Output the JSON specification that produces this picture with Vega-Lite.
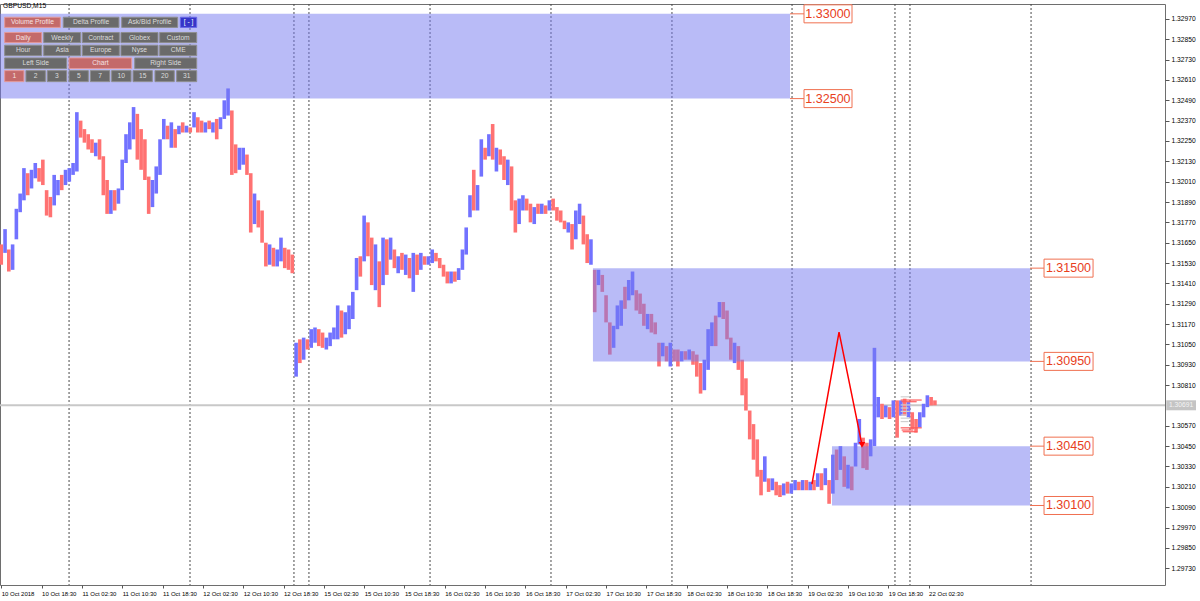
{
"$schema":"https://vega.github.io/schema/vega-lite/v6.json",
"width":1165,"height":581,
"autosize":{"type":"none"},
"padding":{"left":0,"top":4,"right":35,"bottom":16},
"background":"#ffffff",
"config":{"view":{"stroke":"#6e6e6e","strokeWidth":1},"font":"Liberation Sans"},
"resolve":{"axis":{"x":"independent","y":"independent"}},
"datasets":{
"candles":[
{"i":1,"o":1.3164,"c":1.3152},{"i":4,"o":1.3159,"c":1.3173},{"i":7,"o":1.3161,"c":1.3148},{"i":10,"o":1.3149,"c":1.3164},{"i":13,"o":1.3167,"c":1.3185},{"i":16,"o":1.3183,"c":1.3194},{"i":19,"o":1.3190,"c":1.3209},{"i":22,"o":1.3206,"c":1.3193},{"i":25,"o":1.3197,"c":1.3208},{"i":28,"o":1.3203,"c":1.3212},{"i":31,"o":1.3209,"c":1.3201},{"i":34,"o":1.3214,"c":1.3199},{"i":37,"o":1.3196,"c":1.3181},{"i":40,"o":1.3192,"c":1.3180},{"i":43,"o":1.3187,"c":1.3205},{"i":46,"o":1.3193,"c":1.3202},{"i":49,"o":1.3205,"c":1.3196},{"i":52,"o":1.3199,"c":1.3208},{"i":55,"o":1.3201,"c":1.3209},{"i":58,"o":1.3205,"c":1.3212},{"i":61,"o":1.3207,"c":1.3242},{"i":64,"o":1.3237,"c":1.3227},{"i":67,"o":1.3232,"c":1.3224},{"i":70,"o":1.3229,"c":1.3220},{"i":73,"o":1.3226,"c":1.3218},{"i":76,"o":1.3216,"c":1.3224},{"i":79,"o":1.3226,"c":1.3214},{"i":82,"o":1.3216,"c":1.3193},{"i":85,"o":1.3202,"c":1.3182},{"i":88,"o":1.3182,"c":1.3196},{"i":91,"o":1.3196,"c":1.3184},{"i":94,"o":1.3188,"c":1.3197},{"i":97,"o":1.3196,"c":1.3214},{"i":100,"o":1.3212,"c":1.3229},{"i":103,"o":1.3220,"c":1.3236},{"i":106,"o":1.3226,"c":1.3245},{"i":109,"o":1.3241,"c":1.3214},{"i":112,"o":1.3232,"c":1.3208},{"i":115,"o":1.3226,"c":1.3202},{"i":118,"o":1.3204,"c":1.3182},{"i":121,"o":1.3186,"c":1.3202},{"i":124,"o":1.3194,"c":1.3210},{"i":127,"o":1.3205,"c":1.3226},{"i":130,"o":1.3226,"c":1.3238},{"i":133,"o":1.3234,"c":1.3226},{"i":136,"o":1.3221,"c":1.3236},{"i":139,"o":1.3232,"c":1.3221},{"i":142,"o":1.3229,"c":1.3234},{"i":145,"o":1.3236,"c":1.3230},{"i":148,"o":1.3230,"c":1.3234},{"i":151,"o":1.3233,"c":1.3230},{"i":154,"o":1.3233,"c":1.3242},{"i":157,"o":1.3239,"c":1.3230},{"i":160,"o":1.3237,"c":1.3230},{"i":163,"o":1.3230,"c":1.3236},{"i":166,"o":1.3237,"c":1.3232},{"i":169,"o":1.3230,"c":1.3236},{"i":172,"o":1.3238,"c":1.3226},{"i":175,"o":1.3232,"c":1.3239},{"i":178,"o":1.3238,"c":1.3249},{"i":181,"o":1.3240,"c":1.3256},{"i":184,"o":1.3243,"c":1.3205},{"i":187,"o":1.3223,"c":1.3206},{"i":190,"o":1.3208,"c":1.3221},{"i":193,"o":1.3211,"c":1.3221},{"i":196,"o":1.3217,"c":1.3205},{"i":199,"o":1.3206,"c":1.3171},{"i":202,"o":1.3176,"c":1.3194},{"i":205,"o":1.3190,"c":1.3174},{"i":208,"o":1.3184,"c":1.3165},{"i":211,"o":1.3165,"c":1.3151},{"i":214,"o":1.3152,"c":1.3164},{"i":217,"o":1.3162,"c":1.3151},{"i":220,"o":1.3151,"c":1.3161},{"i":223,"o":1.3154,"c":1.3168},{"i":226,"o":1.3162,"c":1.3150},{"i":229,"o":1.3161,"c":1.3149},{"i":232,"o":1.3158,"c":1.3147},
{"i":235,"o":1.3086,"c":1.3106},{"i":238,"o":1.3108,"c":1.3094},{"i":241,"o":1.3096,"c":1.3109},{"i":244,"o":1.3108,"c":1.3102},{"i":247,"o":1.3103,"c":1.3114},{"i":250,"o":1.3106,"c":1.3115},{"i":253,"o":1.3114,"c":1.3104},{"i":256,"o":1.3112,"c":1.3103},{"i":259,"o":1.3102,"c":1.3109},{"i":262,"o":1.3104,"c":1.3112},{"i":265,"o":1.3108,"c":1.3115},{"i":268,"o":1.3108,"c":1.3128},{"i":271,"o":1.3125,"c":1.3109},{"i":274,"o":1.3111,"c":1.3124},{"i":277,"o":1.3114,"c":1.3128},{"i":280,"o":1.3120,"c":1.3136},{"i":283,"o":1.3137,"c":1.3156},{"i":286,"o":1.3157,"c":1.3145},{"i":289,"o":1.3154,"c":1.3181},{"i":292,"o":1.3177,"c":1.3157},{"i":295,"o":1.3168,"c":1.3140},{"i":298,"o":1.3137,"c":1.3164},{"i":301,"o":1.3154,"c":1.3127},{"i":304,"o":1.3140,"c":1.3168},{"i":307,"o":1.3167,"c":1.3146},{"i":310,"o":1.3155,"c":1.3168},{"i":313,"o":1.3161,"c":1.3150},{"i":316,"o":1.3147,"c":1.3157},{"i":319,"o":1.3159,"c":1.3149},{"i":322,"o":1.3146,"c":1.3158},{"i":325,"o":1.3156,"c":1.3144},{"i":328,"o":1.3136,"c":1.3159},{"i":331,"o":1.3158,"c":1.3146},{"i":334,"o":1.3149,"c":1.3159},{"i":337,"o":1.3157,"c":1.3152},{"i":340,"o":1.3152,"c":1.3157},{"i":343,"o":1.3153,"c":1.3161},{"i":346,"o":1.3159,"c":1.3154},{"i":349,"o":1.3156,"c":1.3150},{"i":352,"o":1.3152,"c":1.3145},{"i":355,"o":1.3148,"c":1.3141},{"i":358,"o":1.3141,"c":1.3148},{"i":361,"o":1.3148,"c":1.3142},{"i":364,"o":1.3143,"c":1.3150},{"i":367,"o":1.3149,"c":1.3161},{"i":370,"o":1.3158,"c":1.3174},{"i":373,"o":1.3180,"c":1.3193},{"i":376,"o":1.3208,"c":1.3184},{"i":379,"o":1.3184,"c":1.3199},{"i":382,"o":1.3204,"c":1.3226},{"i":385,"o":1.3221,"c":1.3214},{"i":388,"o":1.3216,"c":1.3229},{"i":391,"o":1.3235,"c":1.3214},{"i":394,"o":1.3207,"c":1.3221},{"i":397,"o":1.3220,"c":1.3211},{"i":400,"o":1.3216,"c":1.3202},{"i":403,"o":1.3199,"c":1.3214},{"i":406,"o":1.3210,"c":1.3184},{"i":409,"o":1.3190,"c":1.3171},{"i":412,"o":1.3176,"c":1.3191},{"i":415,"o":1.3184,"c":1.3193},{"i":418,"o":1.3191,"c":1.3184},{"i":421,"o":1.3188,"c":1.3177},{"i":424,"o":1.3176,"c":1.3186},{"i":427,"o":1.3188,"c":1.3182},{"i":430,"o":1.3182,"c":1.3188},{"i":433,"o":1.3187,"c":1.3182},{"i":436,"o":1.3184,"c":1.3190},{"i":439,"o":1.3191,"c":1.3184},{"i":442,"o":1.3186,"c":1.3178},{"i":445,"o":1.3184,"c":1.3177},{"i":448,"o":1.3178,"c":1.3173},{"i":451,"o":1.3171,"c":1.3177},{"i":454,"o":1.3176,"c":1.3161},{"i":457,"o":1.3167,"c":1.3184},{"i":460,"o":1.3176,"c":1.3188},{"i":463,"o":1.3181,"c":1.3164},{"i":466,"o":1.3170,"c":1.3153},{"i":469,"o":1.3152,"c":1.3167},{"i":472,"o":1.3149,"c":1.3124},{"i":475,"o":1.3140,"c":1.3149},{"i":478,"o":1.3146,"c":1.3136},{"i":481,"o":1.3134,"c":1.3118},{"i":484,"o":1.3118,"c":1.3099},{"i":487,"o":1.3103,"c":1.3116},{"i":490,"o":1.3114,"c":1.3128},{"i":493,"o":1.3116,"c":1.3131},{"i":496,"o":1.3139,"c":1.3126},{"i":499,"o":1.3131,"c":1.3143},{"i":502,"o":1.3134,"c":1.3148},{"i":505,"o":1.3137,"c":1.3125},{"i":508,"o":1.3135,"c":1.3123},{"i":511,"o":1.3129,"c":1.3116},{"i":514,"o":1.3114,"c":1.3123},{"i":517,"o":1.3123,"c":1.3112},{"i":520,"o":1.3118,"c":1.3111},{"i":523,"o":1.3106,"c":1.3092},{"i":526,"o":1.3098,"c":1.3106},{"i":529,"o":1.3104,"c":1.3095},{"i":532,"o":1.3092,"c":1.3106},{"i":535,"o":1.3102,"c":1.3095},{"i":538,"o":1.3102,"c":1.3092},{"i":541,"o":1.3095,"c":1.3101},{"i":544,"o":1.3101,"c":1.3096},{"i":547,"o":1.3096,"c":1.3102},{"i":550,"o":1.3101,"c":1.3093},{"i":553,"o":1.3099,"c":1.3086},{"i":556,"o":1.3094,"c":1.3076},{"i":559,"o":1.3078,"c":1.3096},{"i":562,"o":1.3090,"c":1.3114},{"i":565,"o":1.3104,"c":1.3118},{"i":568,"o":1.3122,"c":1.3104},{"i":571,"o":1.3121,"c":1.3130},{"i":574,"o":1.3130,"c":1.3120},{"i":577,"o":1.3125,"c":1.3108},{"i":580,"o":1.3109,"c":1.3096},{"i":583,"o":1.3094,"c":1.3106},{"i":586,"o":1.3104,"c":1.3090},{"i":589,"o":1.3096,"c":1.3075},{"i":592,"o":1.3085,"c":1.3066},{"i":595,"o":1.3066,"c":1.3049},{"i":598,"o":1.3058,"c":1.3037},{"i":601,"o":1.3049,"c":1.3027},{"i":604,"o":1.3031,"c":1.3016},{"i":607,"o":1.3024,"c":1.3039},{"i":610,"o":1.3026,"c":1.3018},{"i":613,"o":1.3019,"c":1.3026},{"i":616,"o":1.3024,"c":1.3016},{"i":619,"o":1.3022,"c":1.3015},{"i":622,"o":1.3016,"c":1.3023},{"i":625,"o":1.3024,"c":1.3017},{"i":628,"o":1.3017,"c":1.3023},{"i":631,"o":1.3019,"c":1.3025},{"i":634,"o":1.3024,"c":1.3019},{"i":637,"o":1.3019,"c":1.3025},{"i":640,"o":1.3025,"c":1.3019},{"i":643,"o":1.3019,"c":1.3024},{"i":646,"o":1.3025,"c":1.3019},{"i":649,"o":1.3021,"c":1.3029},{"i":652,"o":1.3029,"c":1.3019},{"i":655,"o":1.3022,"c":1.3032},{"i":658,"o":1.3025,"c":1.3011},{"i":661,"o":1.3017,"c":1.3040},{"i":664,"o":1.3043,"c":1.3025},{"i":667,"o":1.3031,"c":1.3045},{"i":670,"o":1.3039,"c":1.3021},{"i":673,"o":1.3020,"c":1.3034},{"i":676,"o":1.3033,"c":1.3019},{"i":679,"o":1.3033,"c":1.3047},{"i":682,"o":1.3046,"c":1.3061},{"i":685,"o":1.3050,"c":1.3032},{"i":688,"o":1.3047,"c":1.3031},{"i":691,"o":1.3039,"c":1.3049},{"i":694,"o":1.3045,"c":1.3103},{"i":697,"o":1.3062,"c":1.3074},{"i":700,"o":1.3070,"c":1.3061},{"i":703,"o":1.3062,"c":1.3069},{"i":706,"o":1.3068,"c":1.3061},{"i":709,"o":1.3062,"c":1.3072},{"i":712,"o":1.3072,"c":1.3050},{"i":715,"o":1.3063,"c":1.3072},{"i":718,"o":1.3073,"c":1.3063},{"i":721,"o":1.3062,"c":1.3071},{"i":724,"o":1.3065,"c":1.3055},{"i":727,"o":1.3061,"c":1.3053},{"i":730,"o":1.3056,"c":1.3065},{"i":733,"o":1.3062,"c":1.3070},{"i":736,"o":1.3068,"c":1.3075},{"i":739,"o":1.3074,"c":1.3069},{"i":742,"o":1.3072,"c":1.30691}
],
"seps":[{"i":54.8},{"i":150.8},{"i":233.3},{"i":245.2},{"i":341.3},{"i":437.3},{"i":533.3},{"i":628.6},{"i":710.3},{"i":722.2},{"i":818.3}],
"price":[{"p":1.30691,"a":925.6,"b":949.2,"m":937.4,"t":"1.30691"}],
"zones":[{"a":0,"b":627,"lo":1.325,"hi":1.33},{"a":470.6,"b":817.5,"lo":1.3095,"hi":1.315},{"a":660.3,"b":817.5,"lo":1.301,"hi":1.3045}],
"zlabels":[
{"p":1.33,"z":627,"a":638.1,"b":676.2,"m":657.1,"t":"1.33000"},
{"p":1.325,"z":627,"a":638.1,"b":676.2,"m":657.1,"t":"1.32500"},
{"p":1.315,"z":817.5,"a":828.6,"b":867.5,"m":848,"t":"1.31500"},
{"p":1.3095,"z":817.5,"a":828.6,"b":867.5,"m":848,"t":"1.30950"},
{"p":1.3045,"z":817.5,"a":828.6,"b":867.5,"m":848,"t":"1.30450"},
{"p":1.301,"z":817.5,"a":828.6,"b":867.5,"m":848,"t":"1.30100"}
],
"zigzag":[{"i":644.4,"p":1.30226,"k":0},{"i":665.9,"p":1.31123,"k":1},{"i":684.1,"p":1.30457,"k":2}],
"vp":[
{"p":1.30741,"a":714.8,"b":722.2,"k":"g"},{"p":1.30722,"a":714.8,"b":731.5,"k":"r"},{"p":1.30712,"a":715.6,"b":727.5,"k":"r"},
{"p":1.30693,"a":714.8,"b":723.6,"k":"g"},{"p":1.30675,"a":714.8,"b":721,"k":"g"},{"p":1.30655,"a":714.8,"b":722,"k":"g"},
{"p":1.30634,"a":714.8,"b":720,"k":"g"},{"p":1.30615,"a":714.8,"b":723,"k":"g"},{"p":1.30595,"a":714.8,"b":721,"k":"g"},
{"p":1.30558,"a":714.8,"b":731.5,"k":"r"},{"p":1.30545,"a":715.6,"b":724.9,"k":"r"},{"p":1.30535,"a":716.4,"b":728,"k":"r"}
],
"buttons":[
{"t":"Volume Profile","a":3.7,"b":47.9,"m":25.8,"lo":1.3292,"hi":1.3298,"ym":1.3295,"s":"on"},
{"t":"Delta Profile","a":50.2,"b":94.4,"m":72.3,"lo":1.3292,"hi":1.3298,"ym":1.3295,"s":"off"},
{"t":"Ask/Bid Profile","a":96.6,"b":141.0,"m":118.8,"lo":1.3292,"hi":1.3298,"ym":1.3295,"s":"off"},
{"t":"[ - ]","a":143.1,"b":156.1,"m":149.6,"lo":1.3292,"hi":1.3298,"ym":1.3295,"s":"blue"},
{"t":"Daily","a":3.7,"b":33.1,"m":18.4,"lo":1.3283,"hi":1.3289,"ym":1.3286,"s":"on"},
{"t":"Weekly","a":34.7,"b":64.0,"m":49.4,"lo":1.3283,"hi":1.3289,"ym":1.3286,"s":"off"},
{"t":"Contract","a":65.3,"b":94.7,"m":80.0,"lo":1.3283,"hi":1.3289,"ym":1.3286,"s":"off"},
{"t":"Globex","a":96.0,"b":125.4,"m":110.7,"lo":1.3283,"hi":1.3289,"ym":1.3286,"s":"off"},
{"t":"Custom","a":126.7,"b":156.1,"m":141.4,"lo":1.3283,"hi":1.3289,"ym":1.3286,"s":"off"},
{"t":"Hour","a":3.7,"b":33.1,"m":18.4,"lo":1.32753,"hi":1.32815,"ym":1.32784,"s":"off"},
{"t":"Asia","a":34.7,"b":64.0,"m":49.4,"lo":1.32753,"hi":1.32815,"ym":1.32784,"s":"off"},
{"t":"Europe","a":65.3,"b":94.7,"m":80.0,"lo":1.32753,"hi":1.32815,"ym":1.32784,"s":"off"},
{"t":"Nyse","a":96.0,"b":125.4,"m":110.7,"lo":1.32753,"hi":1.32815,"ym":1.32784,"s":"off"},
{"t":"CME","a":126.7,"b":156.1,"m":141.4,"lo":1.32753,"hi":1.32815,"ym":1.32784,"s":"off"},
{"t":"Left Side","a":3.7,"b":52.9,"m":28.3,"lo":1.32677,"hi":1.3274,"ym":1.32708,"s":"off"},
{"t":"Chart","a":54.8,"b":104.5,"m":79.7,"lo":1.32677,"hi":1.3274,"ym":1.32708,"s":"on"},
{"t":"Right Side","a":106.9,"b":156.1,"m":131.5,"lo":1.32677,"hi":1.3274,"ym":1.32708,"s":"off"},
{"t":"1","a":3.7,"b":19.0,"m":11.4,"lo":1.326,"hi":1.32665,"ym":1.32632,"s":"on"},
{"t":"2","a":20.6,"b":36.0,"m":28.3,"lo":1.326,"hi":1.32665,"ym":1.32632,"s":"off"},
{"t":"3","a":37.5,"b":52.9,"m":45.2,"lo":1.326,"hi":1.32665,"ym":1.32632,"s":"off"},
{"t":"5","a":54.8,"b":70.1,"m":62.5,"lo":1.326,"hi":1.32665,"ym":1.32632,"s":"off"},
{"t":"7","a":71.7,"b":87.1,"m":79.4,"lo":1.326,"hi":1.32665,"ym":1.32632,"s":"off"},
{"t":"10","a":88.6,"b":104.0,"m":96.3,"lo":1.326,"hi":1.32665,"ym":1.32632,"s":"off"},
{"t":"15","a":105.6,"b":120.9,"m":113.3,"lo":1.326,"hi":1.32665,"ym":1.32632,"s":"off"},
{"t":"20","a":123.0,"b":138.3,"m":130.7,"lo":1.326,"hi":1.32665,"ym":1.32632,"s":"off"},
{"t":"31","a":140.2,"b":156.1,"m":148.2,"lo":1.326,"hi":1.32665,"ym":1.32632,"s":"off"}
],
"title":[{"t":"GBPUSD,M15","i":2.4,"p":1.33047}]
},
"layer":[
{"data":{"name":"seps"},"mark":{"type":"rule","strokeDash":[2,2],"color":"#4a4a4a","strokeWidth":1},
 "encoding":{"x":{"field":"i","type":"quantitative","scale":{"domain":[0,924.6],"nice":false,"zero":false},
 "axis":{"orient":"bottom","values":[1,33,65,97,129,161,193,225,257,289,321,353,385,417,449,481,513,545,577,609,641,673,705,737],
 "labelExpr":"['10 Oct 2018','10 Oct 18:30','11 Oct 02:30','11 Oct 10:30','11 Oct 18:30','12 Oct 02:30','12 Oct 10:30','12 Oct 18:30','15 Oct 02:30','15 Oct 10:30','15 Oct 18:30','16 Oct 02:30','16 Oct 10:30','16 Oct 18:30','17 Oct 02:30','17 Oct 10:30','17 Oct 18:30','18 Oct 02:30','18 Oct 10:30','18 Oct 18:30','19 Oct 02:30','19 Oct 10:30','19 Oct 18:30','22 Oct 02:30'][round((datum.value-1)/32)]",
 "labelAlign":"left","labelBaseline":"top","labelFontSize":6,"labelColor":"#000000","labelPadding":2,"labelDx":1,"tickSize":3,"tickColor":"#555555","domain":false,"grid":false,"title":null,"labelOverlap":false,"labelFlush":false,"labelBound":false}}}},
{"data":{"name":"price"},"mark":{"type":"rule","color":"#c8c8c8","strokeWidth":2},
 "encoding":{"y":{"field":"p","type":"quantitative","scale":{"domain":[1.29631,1.33058],"nice":false,"zero":false},"axis":null}}},
{"data":{"name":"candles"},"mark":{"type":"rule","strokeWidth":3.6},
 "encoding":{"x":{"field":"i","type":"quantitative","scale":{"domain":[0,924.6],"nice":false,"zero":false},"axis":null},
 "y":{"field":"o","type":"quantitative","scale":{"domain":[1.29631,1.33058],"nice":false,"zero":false},
 "axis":{"orient":"right","values":[1.2973,1.2985,1.2997,1.3009,1.3021,1.3033,1.3045,1.3057,1.3081,1.3093,1.3105,1.3117,1.3129,1.3141,1.3153,1.3165,1.3177,1.3189,1.3201,1.3213,1.3225,1.3237,1.3249,1.3261,1.3273,1.3285,1.3297],
 "format":".5f","labelFontSize":6.7,"labelColor":"#000000","tickSize":4,"tickColor":"#555555","labelPadding":2,"domain":false,"grid":false,"title":null,"labelOverlap":false,"labelFlush":false,"labelBound":false}},
 "y2":{"field":"c"},
 "color":{"condition":{"test":"datum.c>=datum.o","value":"#7272ff"},"value":"#ff7272"}}},
{"data":{"name":"zones"},"mark":{"type":"rect","color":"#7478f0","opacity":0.5},
 "encoding":{"x":{"field":"a","type":"quantitative","scale":{"domain":[0,924.6],"nice":false,"zero":false},"axis":null},"x2":{"field":"b"},
 "y":{"field":"lo","type":"quantitative","scale":{"domain":[1.29631,1.33058],"nice":false,"zero":false},"axis":null},"y2":{"field":"hi"}}},
{"data":{"name":"zlabels"},"mark":{"type":"rule","color":"#f07050","strokeWidth":1},
 "encoding":{"x":{"field":"z","type":"quantitative","scale":{"domain":[0,924.6],"nice":false,"zero":false},"axis":null},"x2":{"field":"a"},
 "y":{"field":"p","type":"quantitative","scale":{"domain":[1.29631,1.33058],"nice":false,"zero":false},"axis":null}}},
{"data":{"name":"zlabels"},"mark":{"type":"rect","fill":"#ffffff","stroke":"#f07050","strokeWidth":1,"yOffset":-9,"y2Offset":9},
 "encoding":{"x":{"field":"a","type":"quantitative","scale":{"domain":[0,924.6],"nice":false,"zero":false},"axis":null},"x2":{"field":"b"},
 "y":{"field":"p","type":"quantitative","scale":{"domain":[1.29631,1.33058],"nice":false,"zero":false},"axis":null},"y2":{"field":"p"}}},
{"data":{"name":"zlabels"},"mark":{"type":"text","color":"#e8401c","fontSize":12.5,"align":"center","baseline":"middle"},
 "encoding":{"x":{"field":"m","type":"quantitative","scale":{"domain":[0,924.6],"nice":false,"zero":false},"axis":null},
 "y":{"field":"p","type":"quantitative","scale":{"domain":[1.29631,1.33058],"nice":false,"zero":false},"axis":null},"text":{"field":"t"}}},
{"data":{"name":"zigzag"},"mark":{"type":"line","color":"#ff0000","strokeWidth":1.5},
 "encoding":{"x":{"field":"i","type":"quantitative","scale":{"domain":[0,924.6],"nice":false,"zero":false},"axis":null},
 "y":{"field":"p","type":"quantitative","scale":{"domain":[1.29631,1.33058],"nice":false,"zero":false},"axis":null},"order":{"field":"k"}}},
{"data":{"name":"zigzag"},"transform":[{"filter":"datum.k==2"}],"mark":{"type":"point","shape":"triangle-down","filled":true,"color":"#ff0000","size":45,"opacity":1},
 "encoding":{"x":{"field":"i","type":"quantitative","scale":{"domain":[0,924.6],"nice":false,"zero":false},"axis":null},
 "y":{"field":"p","type":"quantitative","scale":{"domain":[1.29631,1.33058],"nice":false,"zero":false},"axis":null}}},
{"data":{"name":"vp"},"mark":{"type":"rule","strokeWidth":1.2},
 "encoding":{"x":{"field":"a","type":"quantitative","scale":{"domain":[0,924.6],"nice":false,"zero":false},"axis":null},"x2":{"field":"b"},
 "y":{"field":"p","type":"quantitative","scale":{"domain":[1.29631,1.33058],"nice":false,"zero":false},"axis":null},
 "color":{"condition":{"test":"datum.k=='r'","value":"#ff5a5a"},"value":"#d0d0d0"}}},
{"data":{"name":"buttons"},"mark":{"type":"rect","strokeWidth":1},
 "encoding":{"x":{"field":"a","type":"quantitative","scale":{"domain":[0,924.6],"nice":false,"zero":false},"axis":null},"x2":{"field":"b"},
 "y":{"field":"lo","type":"quantitative","scale":{"domain":[1.29631,1.33058],"nice":false,"zero":false},"axis":null},"y2":{"field":"hi"},
 "fill":{"field":"s","type":"nominal","scale":{"domain":["on","off","blue"],"range":["#c46a6a","#6a6a6a","#3535c8"]},"legend":null},
 "stroke":{"field":"s","type":"nominal","scale":{"domain":["on","off","blue"],"range":["#e49a9a","#8e8e8e","#6a6ae8"]},"legend":null}}},
{"data":{"name":"buttons"},"mark":{"type":"text","fontSize":6.7,"align":"center","baseline":"middle"},
 "encoding":{"x":{"field":"m","type":"quantitative","scale":{"domain":[0,924.6],"nice":false,"zero":false},"axis":null},
 "y":{"field":"ym","type":"quantitative","scale":{"domain":[1.29631,1.33058],"nice":false,"zero":false},"axis":null},"text":{"field":"t"},
 "color":{"field":"s","type":"nominal","scale":{"domain":["on","off","blue"],"range":["#f6e2e2","#dcdcdc","#ffffff"]},"legend":null}}},
{"data":{"name":"title"},"mark":{"type":"text","fontSize":6.7,"align":"left","baseline":"middle","color":"#000000"},
 "encoding":{"x":{"field":"i","type":"quantitative","scale":{"domain":[0,924.6],"nice":false,"zero":false},"axis":null},
 "y":{"field":"p","type":"quantitative","scale":{"domain":[1.29631,1.33058],"nice":false,"zero":false},"axis":null},"text":{"field":"t"}}},
{"data":{"name":"price"},"mark":{"type":"rect","fill":"#c4c4c4","yOffset":-5,"y2Offset":5},
 "encoding":{"x":{"field":"a","type":"quantitative","scale":{"domain":[0,924.6],"nice":false,"zero":false},"axis":null},"x2":{"field":"b"},
 "y":{"field":"p","type":"quantitative","scale":{"domain":[1.29631,1.33058],"nice":false,"zero":false},"axis":null},"y2":{"field":"p"}}},
{"data":{"name":"price"},"mark":{"type":"text","fontSize":6.7,"align":"center","baseline":"middle","color":"#f4f4f4"},
 "encoding":{"x":{"field":"m","type":"quantitative","scale":{"domain":[0,924.6],"nice":false,"zero":false},"axis":null},
 "y":{"field":"p","type":"quantitative","scale":{"domain":[1.29631,1.33058],"nice":false,"zero":false},"axis":null},"text":{"field":"t"}}}
]
}
